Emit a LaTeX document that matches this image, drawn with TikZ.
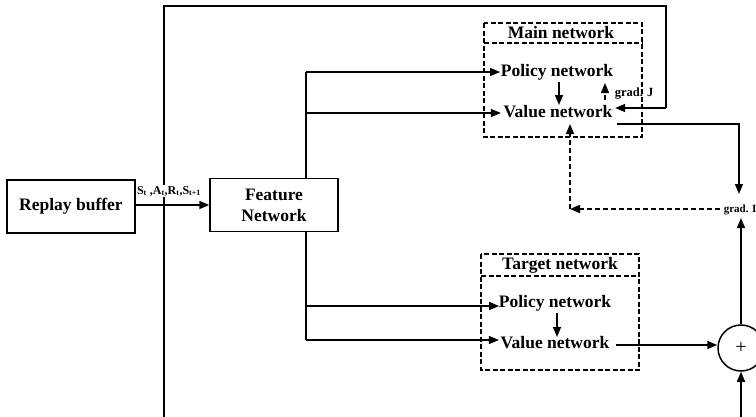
\documentclass[tikz,border=0pt]{standalone}
\usepackage{fontspec}
\setmainfont{Liberation Serif}
\usetikzlibrary{arrows.meta,calc}
\begin{document}
\begin{tikzpicture}[x=1pt,y=-1pt,
  line width=1.5pt,
  arr/.style={-{Triangle[length=10pt,width=8pt]}},
  box/.style={draw,fill=white,minimum width=128pt,minimum height=53pt,align=center,
    font=\fontsize{17.5}{21}\selectfont\bfseries},
  txt/.style={inner sep=0pt,font=\fontsize{17.5}{21}\selectfont\bfseries},
  small/.style={inner sep=0pt,font=\fontsize{12.5}{14}\selectfont\bfseries},
  dbox/.style={draw,dash pattern=on 5pt off 2.5pt,line width=1.3pt},
  dline/.style={dash pattern=on 5pt off 3pt,line width=1.3pt}]
\useasboundingbox (0,0) rectangle (756,416);

% replay loop line on the left and over the top
\coordinate (lt) at (164,6);
\coordinate (lb) at (164,425);
\coordinate (tr) at (666,6);
\coordinate (trd) at (666,108);
\draw (lb) -- (lt) -- (tr) -- (trd);

% bottom line into the summing junction
\coordinate (sb) at (741,425);

% boxes
\node[box] (rb) at (71,206.5) {Replay buffer};
\node[box] (fn) at (274,205) {Feature\\Network};
\draw[arr] (rb.east |- 0,205) -- (fn.west |- 0,205);
\node[fill=white,inner sep=1.5pt,font=\fontsize{12}{14}\selectfont\bfseries] (lab) at (169,191)
  {S\textsubscript{t} ,A\textsubscript{t},R\textsubscript{t},S\textsubscript{t+1}};

% main network group
\draw[dbox] (484,23) rectangle (642,137);
\draw[dbox] (484,43) -- (642,43);
\node[txt] (mt) at (561,33) {Main network};
\node[txt] (pm) at (557,72) {Policy network};
\node[txt] (vm) at (558,112) {Value network};

% target network group
\draw[dbox] (481,254) rectangle (639,370);
\draw[dbox] (481,276) -- (639,276);
\node[txt] (tt) at (560,265) {Target network};
\node[txt] (pt) at (555,303) {Policy network};
\node[txt] (vt) at (555,343) {Value network};

% feature trunk and branches
\coordinate (t1) at (306,72);
\coordinate (t2) at (306,113);
\coordinate (t3) at (306,306);
\coordinate (t4) at (306,340);
\draw (t1) -- (t1 |- fn.north);
\draw (t4) -- (t4 |- fn.south);
\draw[arr] (t1) -- (pm.west |- t1);
\draw[arr] (t2) -- ($(vm.west |- t2)+(-2,0)$);
\draw[arr] (t3) -- ($(pt.west |- t3)+(1,0)$);
\draw[arr] (t4) -- ($(vt.west |- t4)+(-1,0)$);

% inner arrows
\draw[arr] (559,82) -- (559,105);
\draw[arr] (557,313) -- (557,337);
\draw[arr] (trd) -- ($(vm.east |- trd)+(2,0)$);

% grad. J
\coordinate (gj0) at (605,100);
\coordinate (gj1) at (605,83);
\draw[dline,arr] (gj0) -- (gj1);
\node[small,anchor=west] (gj) at (614,94) {grad. J};

% critic loss path
\node[inner sep=0pt,font=\fontsize{11}{13}\selectfont\bfseries,anchor=west] (gi) at (723,210) {grad. I};
\coordinate (vo) at (617,124);
\coordinate (vc) at (739,124);
\draw[arr] (vo) -- (vc) -- (739,194);
\coordinate (gc) at (570,209);
\draw[dline,arr] (720,209) -- (gc);
\draw[dline,arr] (gc) -- (570,124);

% summing junction
\node[draw,circle,minimum size=46pt,inner sep=0pt,line width=1.5pt,font=\fontsize{20}{20}\selectfont] (sum) at (741,348) {+};
\draw[arr] (vt.east |- 0,345) ++(6,0) coordinate (vte) -- (sum.west |- vte);
\draw[arr] (sb) -- (sum.south);
\draw[arr] (sum.north) -- (741,218);
\end{tikzpicture}
\end{document}
